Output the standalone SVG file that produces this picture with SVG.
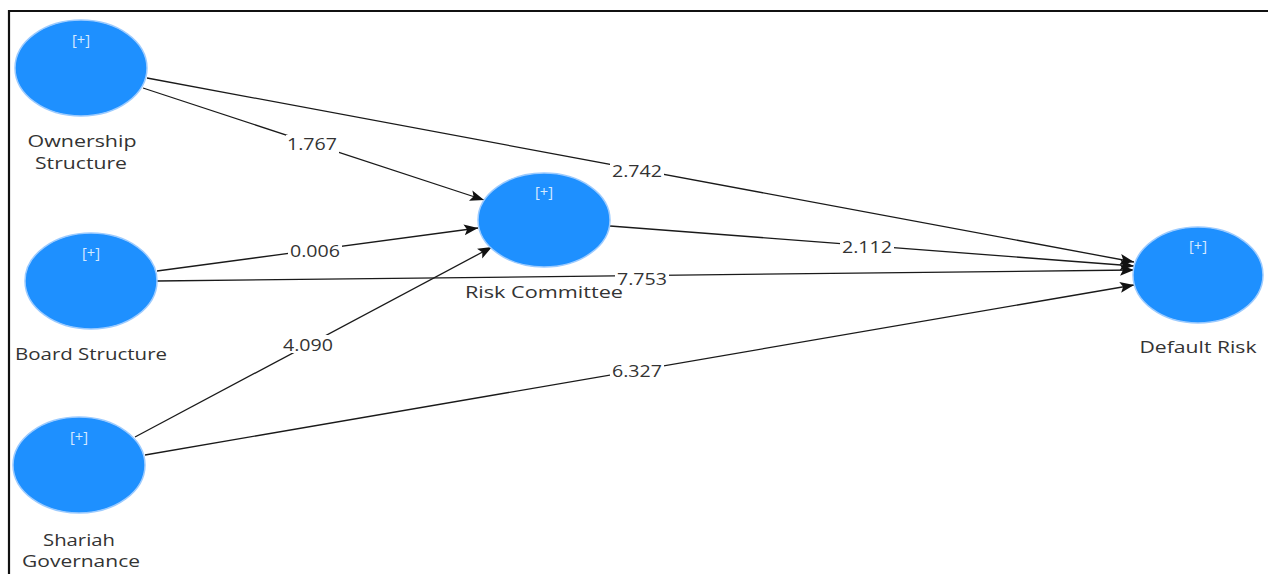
<svg xmlns="http://www.w3.org/2000/svg" width="1268" height="574" viewBox="0 0 1268 574">
  <style>
    .lv { fill: #1e90ff; stroke: #9ccbff; stroke-width: 1.5; }
    .plus { font-family: "Open Sans", "Liberation Sans", sans-serif; font-size: 14px; fill: #d6ebff; text-anchor: middle; }
    .name { font-family: "Open Sans", "Liberation Sans", sans-serif; font-size: 16.5px; fill: #333333; text-anchor: middle; }
    .edge { stroke: #1a1a1a; stroke-width: 1.3; fill: none; marker-end: url(#arrow); }
    .val { font-family: "Open Sans", "Liberation Sans", sans-serif; font-size: 17px; fill: #333333; text-anchor: middle; }
    .valbg { fill: #ffffff; }
  </style>
  <defs>
    <marker id="arrow" markerUnits="userSpaceOnUse" markerWidth="16" markerHeight="12" refX="14" refY="5.5" orient="auto">
      <path d="M0,0 L14,5.5 L0,11 L3,5.5 z" fill="#111111"/>
    </marker>
  </defs>

  <rect x="0" y="0" width="1268" height="574" fill="#ffffff"/>

  <!-- frame -->
  <line x1="8" y1="11" x2="1268" y2="11" stroke="#111111" stroke-width="2.2"/>
  <line x1="9" y1="10" x2="9" y2="574" stroke="#111111" stroke-width="2.2"/>

  <!-- paths between constructs -->
  <g id="connectors">
    <line class="edge" x1="147" y1="78" x2="1134" y2="262"/>
    <line class="edge" x1="143" y1="88" x2="484" y2="200"/>
    <line class="edge" x1="157" y1="271" x2="478" y2="228"/>
    <line class="edge" x1="157" y1="281" x2="1134" y2="270"/>
    <line class="edge" x1="135" y1="437" x2="492" y2="247"/>
    <line class="edge" x1="145" y1="455" x2="1134" y2="285"/>
    <line class="edge" x1="610" y1="226" x2="1134" y2="266"/>

    <g id="coefficients">
      <rect class="valbg" x="286" y="135" width="53" height="18"/>
      <text class="val" x="312" y="150" textLength="50" lengthAdjust="spacingAndGlyphs">1.767</text>
      <rect class="valbg" x="610" y="162" width="54" height="18"/>
      <text class="val" x="637" y="177" textLength="50" lengthAdjust="spacingAndGlyphs">2.742</text>
      <rect class="valbg" x="288" y="241" width="54" height="18"/>
      <text class="val" x="315" y="257" textLength="50" lengthAdjust="spacingAndGlyphs">0.006</text>
      <rect class="valbg" x="840" y="238" width="54" height="18"/>
      <text class="val" x="867" y="253" textLength="50" lengthAdjust="spacingAndGlyphs">2.112</text>
      <rect class="valbg" x="615" y="270" width="54" height="17"/>
      <text class="val" x="642" y="285" textLength="50" lengthAdjust="spacingAndGlyphs">7.753</text>
      <rect class="valbg" x="281" y="335" width="54" height="18"/>
      <text class="val" x="308" y="351" textLength="50" lengthAdjust="spacingAndGlyphs">4.090</text>
      <rect class="valbg" x="610" y="361" width="54" height="18"/>
      <text class="val" x="637" y="377" textLength="50" lengthAdjust="spacingAndGlyphs">6.327</text>
    </g>
  </g>

  <g id="ownership-structure">
    <ellipse class="lv" cx="81" cy="68" rx="66" ry="48"/>
    <text class="plus" x="81" y="45" textLength="18" lengthAdjust="spacingAndGlyphs">[+]</text>
    <text class="name" x="82" y="147" textLength="109" lengthAdjust="spacingAndGlyphs">Ownership</text>
    <text class="name" x="81" y="169" textLength="92" lengthAdjust="spacingAndGlyphs">Structure</text>
  </g>

  <g id="board-structure">
    <ellipse class="lv" cx="91" cy="281" rx="66" ry="48"/>
    <text class="plus" x="91" y="258" textLength="18" lengthAdjust="spacingAndGlyphs">[+]</text>
    <text class="name" x="91" y="360" textLength="152" lengthAdjust="spacingAndGlyphs">Board Structure</text>
  </g>

  <g id="shariah-governance">
    <ellipse class="lv" cx="79" cy="465" rx="66" ry="48"/>
    <text class="plus" x="79" y="442" textLength="18" lengthAdjust="spacingAndGlyphs">[+]</text>
    <text class="name" x="79" y="546" textLength="72" lengthAdjust="spacingAndGlyphs">Shariah</text>
    <text class="name" x="81" y="567" textLength="118" lengthAdjust="spacingAndGlyphs">Governance</text>
  </g>

  <g id="risk-committee">
    <ellipse class="lv" cx="544" cy="220" rx="66" ry="47"/>
    <text class="plus" x="544" y="197" textLength="18" lengthAdjust="spacingAndGlyphs">[+]</text>
    <text class="name" x="544" y="298" textLength="158" lengthAdjust="spacingAndGlyphs">Risk Committee</text>
  </g>

  <g id="default-risk">
    <ellipse class="lv" cx="1198" cy="275" rx="65" ry="48"/>
    <text class="plus" x="1198" y="251" textLength="18" lengthAdjust="spacingAndGlyphs">[+]</text>
    <text class="name" x="1198" y="353" textLength="117" lengthAdjust="spacingAndGlyphs">Default Risk</text>
  </g>
</svg>
